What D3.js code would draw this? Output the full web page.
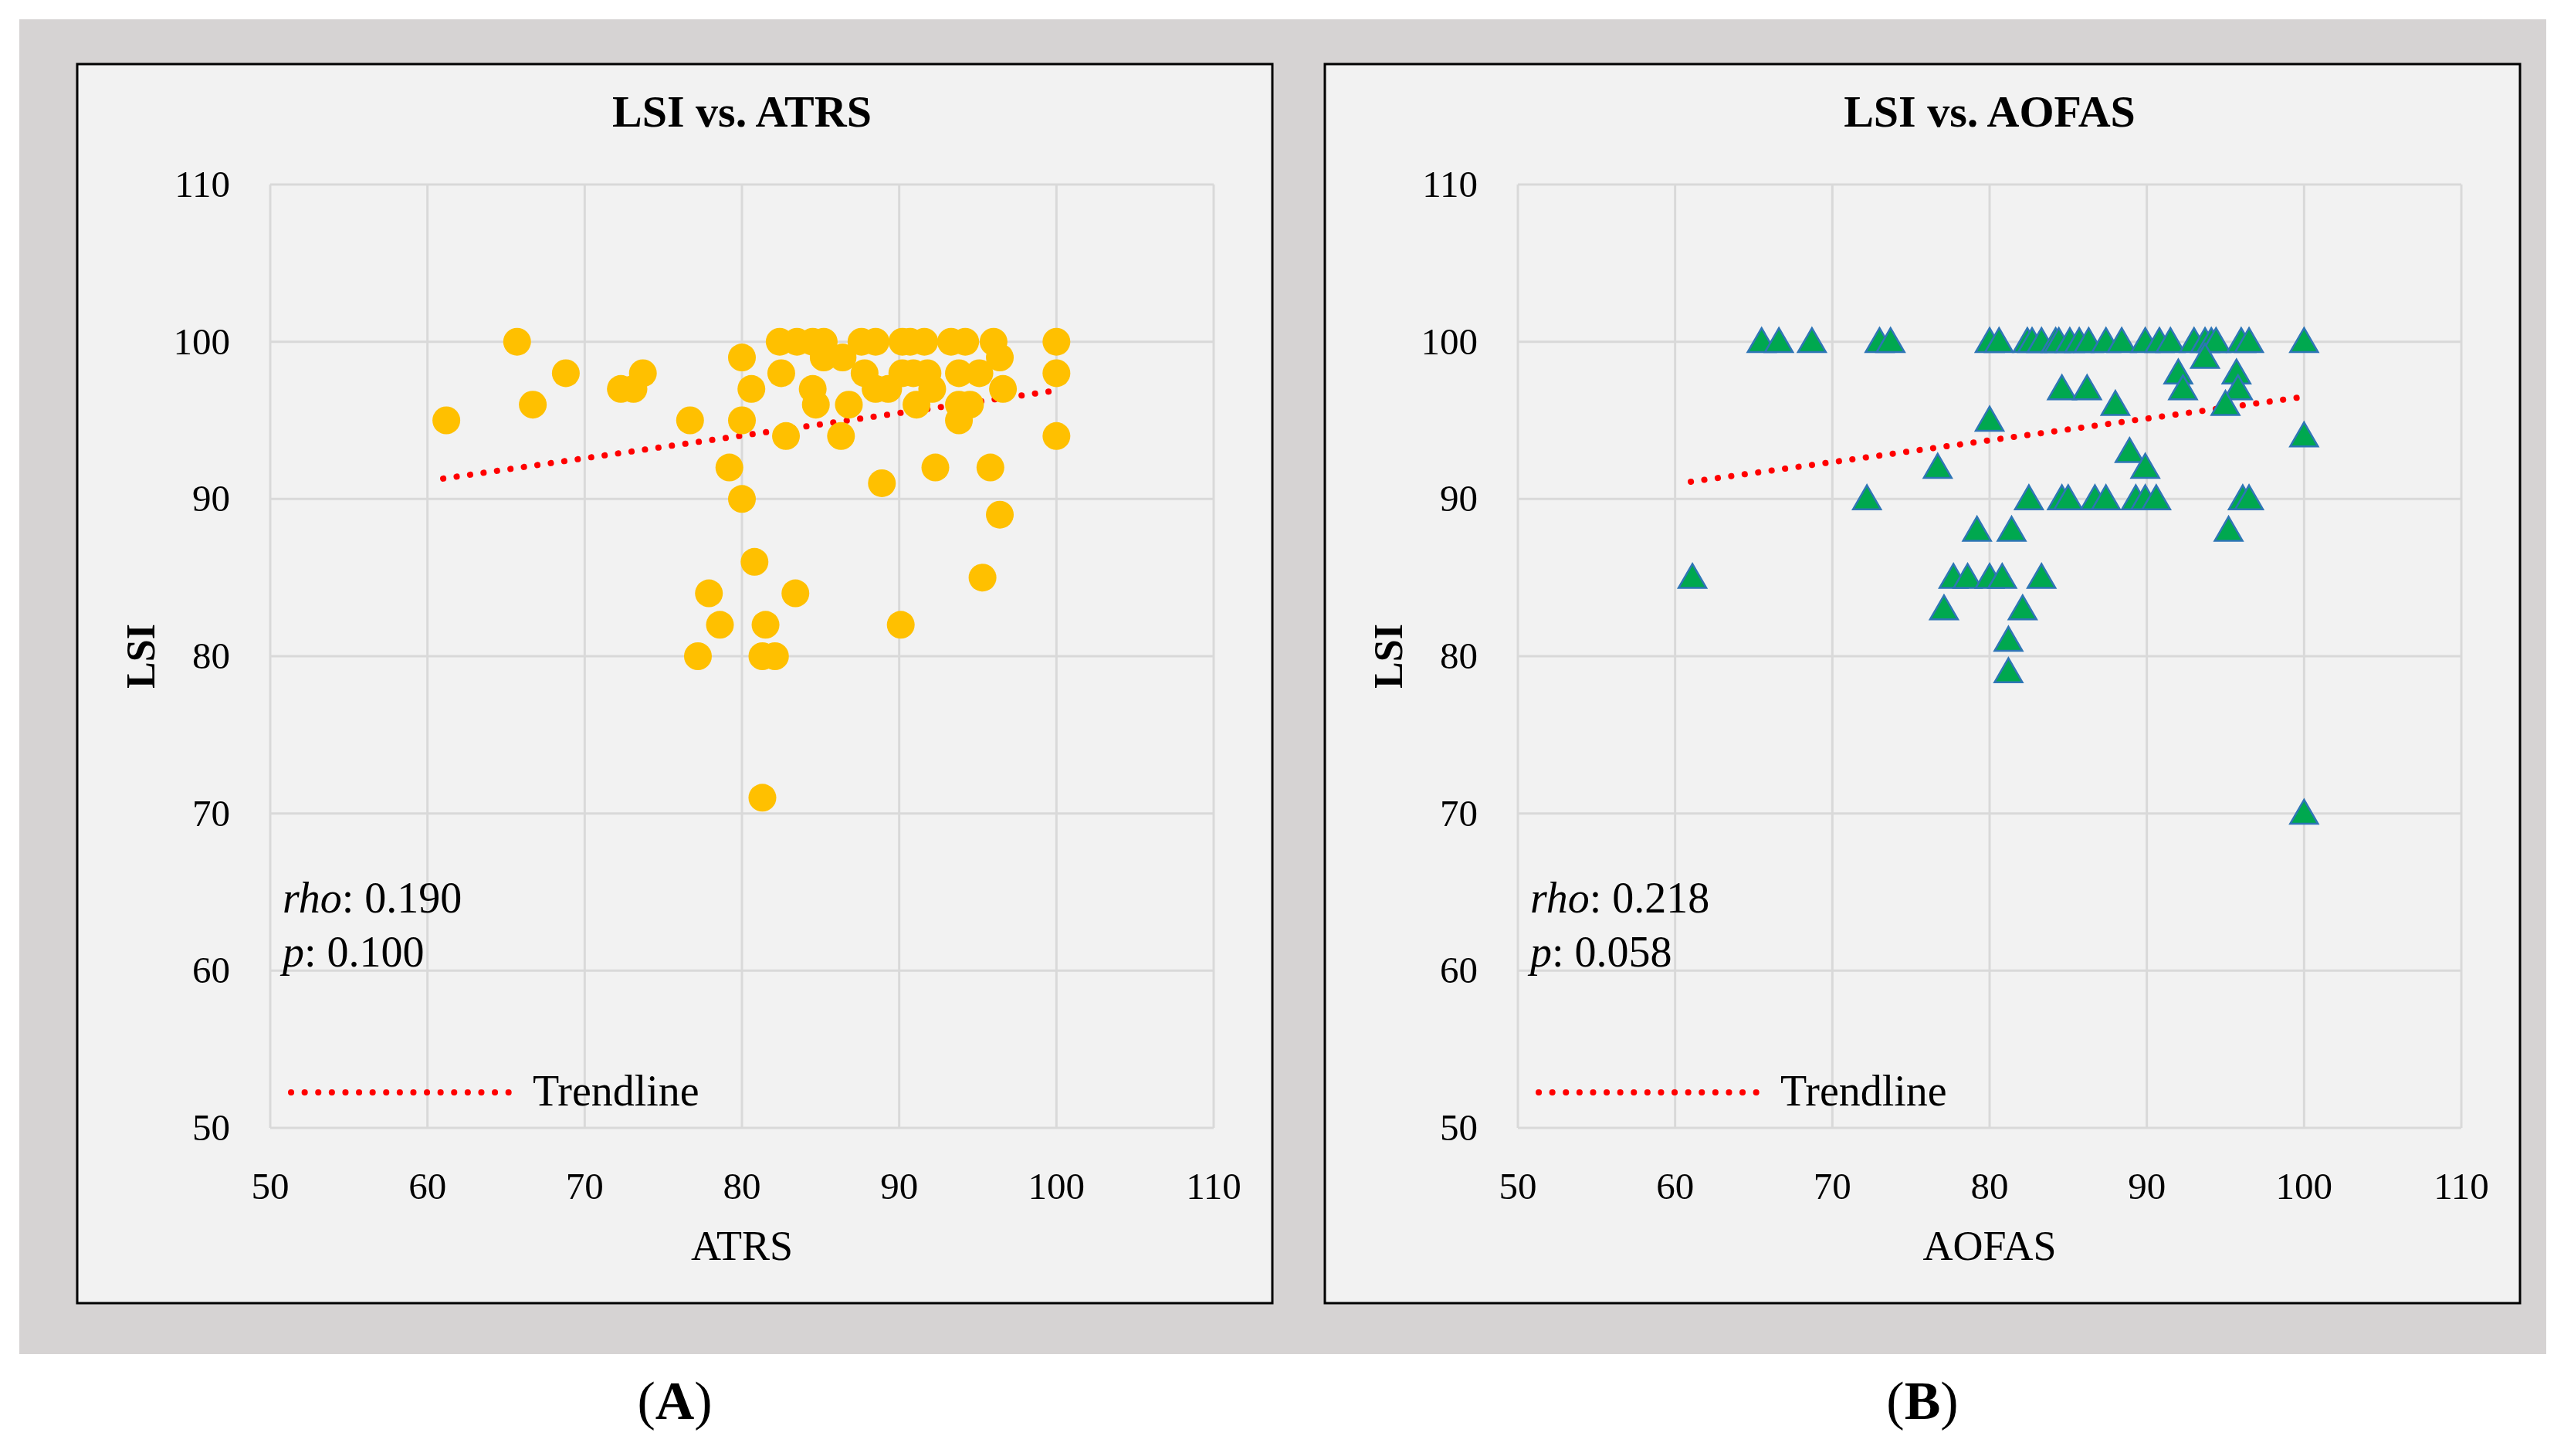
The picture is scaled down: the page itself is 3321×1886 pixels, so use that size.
<!DOCTYPE html>
<html><head><meta charset="utf-8">
<script src="https://cdn.jsdelivr.net/npm/d3@7"></script>
<style>body{margin:0;background:#fff}svg{display:block}</style>
</head><body><svg width="3321" height="1886"></svg>
<script>
// ATRS vs LSI (panel A)
const atrsX=[65.7,61.2,68.8,66.7,72.3,73.1,73.7,76.7,80,80,80.6,82.5,82.4,83.5,84.5,85.2,85.2,86.4,84.5,84.7,86.8,87.6,88.5,87.8,88.5,89.3,90.2,90.7,91.6,90.2,90.9,91.8,92.1,91.1,93.3,94.2,93.8,95.1,93.8,94.5,93.8,96,96.4,96.6,100,100,100,82.8,86.3,79.2,92.3,95.8,88.9,80,96.4,80.8,95.3,77.9,83.4,78.6,81.5,90.1,77.2,81.3,82.1,81.3];
const atrsY=[100,95,98,96,97,97,98,95,99,95,97,98,100,100,100,100,99,99,97,96,96,100,100,98,97,97,100,100,100,98,98,98,97,96,100,100,98,98,96,96,95,100,99,97,100,98,94,94,94,92,92,92,91,90,89,86,85,84,84,82,82,82,80,80,80,71];
// AOFAS vs LSI (panel B)
const aofasX=[65.5,66.6,68.7,73.0,73.7,80,80.6,82.4,82.7,83.3,84.2,84.4,85.1,85.7,86.3,87.4,88.4,89.9,90.8,91.5,93.0,93.7,94.1,94.4,96.0,96.5,100,93.7,92.0,95.7,84.6,86.2,92.3,95.8,88.0,95.0,80,100,88.9,76.7,89.9,72.2,82.5,84.6,85.0,86.7,87.4,89.3,89.9,90.6,96.1,96.5,79.2,81.4,95.2,61.1,77.7,78.6,80,80.8,83.3,77.1,82.1,81.2,81.2,100];
const aofasY=[100,100,100,100,100,100,100,100,100,100,100,100,100,100,100,100,100,100,100,100,100,100,100,100,100,100,100,99,98,98,97,97,97,97,96,96,95,94,93,92,92,90,90,90,90,90,90,90,90,90,90,90,88,88,88,85,85,85,85,85,85,83,83,81,79,70];
const trendA=[[61,91.3],[100,96.9]];
const trendB=[[61,91.1],[100,96.5]];
const ticks=[50,60,70,80,90,100,110];

const svg=d3.select("svg");
const font="'Palatino Linotype','Book Antiqua',Palatino,'Liberation Serif','DejaVu Serif',serif";
svg.append("rect").attr("x",25).attr("y",25).attr("width",3273).attr("height",1729).attr("fill","#d6d3d3");

function panel(ox,title,xlab,xs,ys,trend,rho,p,letter,marker){
  const g=svg.append("g");
  g.append("rect").attr("x",ox).attr("y",83).attr("width",1548).attr("height",1605)
    .attr("fill","#f2f2f2").attr("stroke","#000").attr("stroke-width",3);
  const x=d3.scaleLinear().domain([50,110]).range([ox+250,ox+1472]);
  const y=d3.scaleLinear().domain([50,110]).range([1461,239]);
  g.selectAll(".gx").data(ticks).join("line").attr("x1",d=>x(d)).attr("x2",d=>x(d))
    .attr("y1",y(50)).attr("y2",y(110)).attr("stroke","#d9d9d9").attr("stroke-width",3);
  g.selectAll(".gy").data(ticks).join("line").attr("y1",d=>y(d)).attr("y2",d=>y(d))
    .attr("x1",x(50)).attr("x2",x(110)).attr("stroke","#d9d9d9").attr("stroke-width",3);
  g.selectAll(".tx").data(ticks).join("text").attr("x",d=>x(d)).attr("y",y(50)+92)
    .attr("text-anchor","middle").attr("font-family",font).attr("font-size",49).text(d=>d);
  g.selectAll(".ty").data(ticks).join("text").attr("x",x(50)-52).attr("y",d=>y(d)+16)
    .attr("text-anchor","end").attr("font-family",font).attr("font-size",49).text(d=>d);
  g.append("text").attr("x",(x(50)+x(110))/2).attr("y",164).attr("text-anchor","middle")
    .attr("font-family",font).attr("font-size",58).attr("font-weight","bold").text(title);
  g.append("text").attr("x",(x(50)+x(110))/2).attr("y",1632).attr("text-anchor","middle")
    .attr("font-family",font).attr("font-size",54).text(xlab);
  g.append("text").attr("transform",`translate(${ox+100},${y(80)}) rotate(-90)`).attr("text-anchor","middle")
    .attr("font-family",font).attr("font-size",52).attr("font-weight","bold").text("LSI");
  const line=d3.line().x(d=>x(d[0])).y(d=>y(d[1]));
  const dot={stroke:"#ff0000","stroke-width":8,"stroke-linecap":"round","stroke-dasharray":"0.1 17.5"};
  const tl=g.append("path").attr("d",line(trend)).attr("fill","none");
  Object.entries(dot).forEach(([k,v])=>tl.attr(k,v));
  const pts=d3.range(xs.length).map(i=>[xs[i],ys[i]]);
  if(marker==="circle"){
    g.selectAll(".pt").data(pts).join("circle").attr("cx",d=>x(d[0])).attr("cy",d=>y(d[1]))
      .attr("r",18).attr("fill","#ffc000");
  }else{
    const tri=d3.symbol().type(d3.symbolTriangle).size(560);
    g.selectAll(".pt").data(pts).join("path").attr("d",tri)
      .attr("transform",d=>`translate(${x(d[0])},${y(d[1])+3})`)
      .attr("fill","#00a84f").attr("stroke","#2e75b6").attr("stroke-width",2.5);
  }
  const t1=g.append("text").attr("x",ox+266).attr("y",1182).attr("font-family",font).attr("font-size",56);
  t1.append("tspan").attr("font-style","italic").text("rho");t1.append("tspan").text(": "+rho);
  const t2=g.append("text").attr("x",ox+266).attr("y",1252).attr("font-family",font).attr("font-size",56);
  t2.append("tspan").attr("font-style","italic").text("p");t2.append("tspan").text(": "+p);
  const lg=g.append("line").attr("x1",ox+277).attr("x2",ox+567).attr("y1",1415).attr("y2",1415);
  Object.entries(dot).forEach(([k,v])=>lg.attr(k,v));
  g.append("text").attr("x",ox+590).attr("y",1432).attr("font-family",font).attr("font-size",56).text("Trendline");
  const lt=svg.append("text").attr("x",ox+774).attr("y",1838).attr("text-anchor","middle")
    .attr("font-family",font).attr("font-size",70).attr("font-weight","bold");
  lt.append("tspan").attr("font-weight","normal").text("(");lt.append("tspan").text(letter);
  lt.append("tspan").attr("font-weight","normal").text(")");
}
panel(100,"LSI vs. ATRS","ATRS",atrsX,atrsY,trendA,"0.190","0.100","A","circle");
panel(1716,"LSI vs. AOFAS","AOFAS",aofasX,aofasY,trendB,"0.218","0.058","B","triangle");
</script></body></html>
